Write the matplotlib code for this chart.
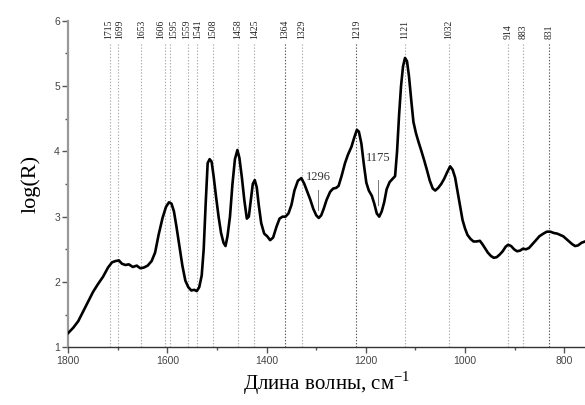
import matplotlib

matplotlib.use("Agg")

import matplotlib.pyplot as plt  # noqa: E402
from matplotlib.ticker import MultipleLocator  # noqa: E402
from matplotlib.transforms import offset_copy  # noqa: E402

# Spectrum (wavenumber, cm^-1 -> log(R))
wavenumber = [
    1800, 1790, 1780, 1770, 1760, 1750, 1740, 1730, 1720, 1712, 1705, 1698, 1692, 1685,
    1678, 1670, 1662, 1655, 1648, 1640, 1632, 1625, 1618, 1610, 1603, 1597, 1592, 1587,
    1582, 1576, 1570, 1564, 1558, 1552, 1546, 1541, 1536, 1531, 1527, 1523, 1519, 1515,
    1511, 1507, 1502, 1497, 1492, 1487, 1483, 1479, 1474, 1469, 1464, 1459, 1455, 1450,
    1445, 1440, 1436, 1432, 1428, 1424, 1420, 1416, 1411, 1405, 1399, 1393, 1387, 1380,
    1374, 1368, 1362, 1356, 1350, 1344, 1337, 1330, 1324, 1318, 1312, 1306, 1300, 1295,
    1290, 1285, 1279, 1272, 1266, 1260, 1255, 1249, 1242, 1236, 1229, 1223, 1218, 1214,
    1209, 1204, 1199, 1194, 1188, 1183, 1178, 1173, 1168, 1163, 1158, 1152, 1146, 1141,
    1137, 1133, 1129, 1125, 1121, 1117, 1113, 1108, 1104, 1099, 1094, 1089, 1083, 1077,
    1071, 1065, 1060, 1054, 1048, 1042, 1036, 1030, 1025, 1020, 1015, 1010, 1005, 1000,
    995, 989, 983, 977, 970, 965, 960, 954, 948, 942, 936, 930, 924, 918, 913, 907, 901,
    895, 889, 883, 877, 871, 865, 858, 850, 842, 835, 828, 821, 814, 808, 802, 796, 790,
    784, 778, 772, 765, 758,
]
log_r = [
    1.22, 1.30, 1.40, 1.55, 1.70, 1.85, 1.97, 2.08, 2.22, 2.30, 2.32, 2.33, 2.28, 2.26,
    2.27, 2.23, 2.25, 2.21, 2.22, 2.25, 2.32, 2.45, 2.72, 2.98, 3.15, 3.22, 3.20, 3.08,
    2.85, 2.55, 2.25, 2.02, 1.92, 1.87, 1.88, 1.86, 1.92, 2.10, 2.50, 3.20, 3.82, 3.88,
    3.84, 3.62, 3.30, 3.00, 2.75, 2.60, 2.55, 2.70, 3.00, 3.50, 3.88, 4.02, 3.90, 3.60,
    3.25, 2.97, 3.00, 3.25, 3.50, 3.56, 3.45, 3.18, 2.90, 2.74, 2.70, 2.64, 2.68, 2.85,
    2.97, 3.00, 3.00, 3.05, 3.18, 3.40, 3.55, 3.59, 3.50, 3.38, 3.26, 3.12, 3.02, 2.98,
    3.02, 3.12, 3.26, 3.38, 3.43, 3.44, 3.47, 3.62, 3.82, 3.95, 4.07, 4.22, 4.33, 4.30,
    4.12, 3.80, 3.52, 3.40, 3.32, 3.20, 3.05, 3.00, 3.08, 3.22, 3.42, 3.53, 3.58, 3.62,
    4.00, 4.55, 5.00, 5.30, 5.43, 5.38, 5.15, 4.75, 4.45, 4.28, 4.15, 4.03, 3.88, 3.72,
    3.55, 3.43, 3.40, 3.44, 3.50, 3.58, 3.68, 3.77, 3.72, 3.60, 3.38, 3.15, 2.95, 2.82,
    2.72, 2.66, 2.62, 2.62, 2.63, 2.58, 2.52, 2.45, 2.40, 2.37, 2.38, 2.42, 2.47, 2.54,
    2.57, 2.55, 2.50, 2.47, 2.48, 2.51, 2.50, 2.52, 2.57, 2.63, 2.70, 2.74, 2.77, 2.77,
    2.75, 2.74, 2.72, 2.70, 2.66, 2.62, 2.58, 2.55, 2.56, 2.60, 2.62,
]

# Band positions marked with dotted lines along the top
bands = [1715, 1699, 1653, 1606, 1595, 1559, 1541, 1508, 1458, 1425,
         1364, 1329, 1219, 1121, 1032, 914, 883, 831]
dark_bands = [1364, 1219, 831]
# crowded labels get nudged apart a little (points)
label_nudge = {1715: -1.2, 1699: 1.2, 1606: -2.6, 1595: 2.6, 1559: -1.0, 1541: 1.0}

# Minima annotated inside the plot
minima = [1296, 1175]
minima_label_y = [3.52, 3.80]
minima_line = [(3.41, 3.10), (3.56, 3.18)]

SERIF = ["Liberation Serif", "DejaVu Serif"]
SANS = ["Liberation Sans", "DejaVu Sans"]

fig = plt.figure(figsize=(5.85, 4.05), dpi=100)
ax = fig.add_axes([0.1168, 0.1425, 0.8832, 0.8064])

for b in bands:
    ax.plot([b, b], [1, 5.66], color="#555555" if b in dark_bands else "#aaaaaa",
            linestyle=(0, (1.2, 1.6)), linewidth=0.8, zorder=1, clip_on=False)
    tr = offset_copy(ax.transData, fig=fig, x=label_nudge.get(b, 0.0), y=0,
                     units="points")
    ax.text(b, 5.72, str(b), rotation=90, ha="center", va="bottom", transform=tr,
            fontsize=7, family=SERIF, color="#222222", clip_on=False)

ax.plot(wavenumber, log_r, color="black", linewidth=1.9, zorder=3,
        solid_joinstyle="round")

for pos, ly, (top, bot) in zip(minima, minima_label_y, minima_line):
    ax.plot([pos, pos], [bot, top], color="#777777", linewidth=0.7, zorder=2)
    ax.text(pos, ly, str(pos), ha="center", va="bottom", fontsize=9,
            family=SERIF, color="#333333")

ax.set_xlim(1800, 758)
ax.set_ylim(1, 6)
ax.xaxis.set_major_locator(MultipleLocator(200))
ax.xaxis.set_minor_locator(MultipleLocator(100))
ax.yaxis.set_major_locator(MultipleLocator(1))
ax.yaxis.set_minor_locator(MultipleLocator(0.5))

for side in ("top", "right"):
    ax.spines[side].set_visible(False)
ax.spines["left"].set_color("#999999")
ax.spines["left"].set_linewidth(1.6)
ax.spines["bottom"].set_color("#333333")
ax.spines["bottom"].set_linewidth(1.0)

ax.tick_params(axis="both", which="major", direction="out", length=4, width=1,
               labelsize=7.5, labelcolor="#444444", color="#555555", pad=2)
ax.tick_params(axis="both", which="minor", direction="out", length=2.5, width=1,
               color="#555555")
for lbl in ax.get_xticklabels() + ax.get_yticklabels():
    lbl.set_family(SANS)

ax.set_xlabel("Длина волны, см$^{\\mathregular{-1}}$", fontsize=15, family=SERIF,
              labelpad=3)
ax.set_ylabel("log(R)", fontsize=16, family=SERIF, labelpad=10)

fig.savefig("out.png", dpi=100)
